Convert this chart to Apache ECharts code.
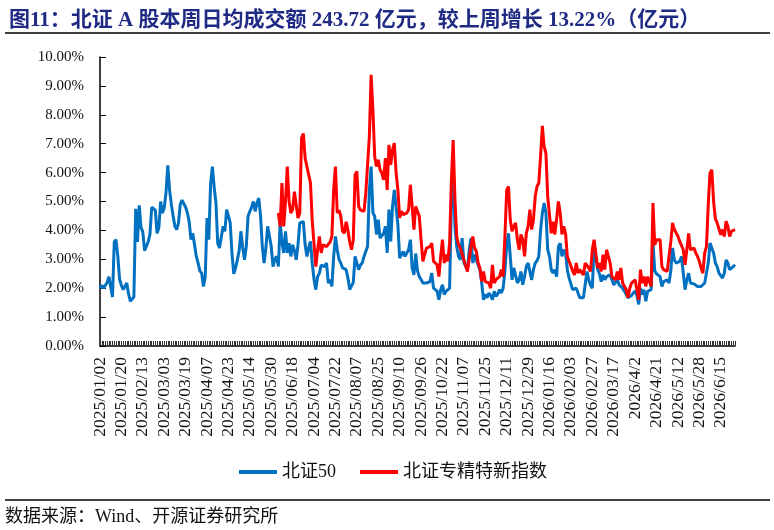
<!DOCTYPE html>
<html><head><meta charset="utf-8">
<script src="https://cdn.jsdelivr.net/npm/echarts@6/dist/echarts.min.js"></script>
<style>html,body{margin:0;padding:0;background:#fff}#c{width:774px;height:530px}</style>
</head><body><div id="c"></div>
<script>
const categories = [
'2025/01/02','2025/01/03','2025/01/06','2025/01/07','2025/01/08','2025/01/09','2025/01/10','2025/01/13','2025/01/14','2025/01/15','2025/01/16','2025/01/17','2025/01/20','2025/01/21','2025/01/22','2025/01/23','2025/01/24','2025/01/27',
'2025/02/05','2025/02/06','2025/02/07','2025/02/10','2025/02/11','2025/02/12','2025/02/13','2025/02/14','2025/02/17','2025/02/18','2025/02/19','2025/02/20','2025/02/21','2025/02/24','2025/02/25','2025/02/26','2025/02/27','2025/02/28',
'2025/03/03','2025/03/04','2025/03/05','2025/03/06','2025/03/07','2025/03/10','2025/03/11','2025/03/12','2025/03/13','2025/03/14','2025/03/17','2025/03/18','2025/03/19','2025/03/20','2025/03/21','2025/03/24','2025/03/25','2025/03/26','2025/03/27','2025/03/28','2025/03/31',
'2025/04/01','2025/04/02','2025/04/03','2025/04/07','2025/04/08','2025/04/09','2025/04/10','2025/04/11','2025/04/14','2025/04/15','2025/04/16','2025/04/17','2025/04/18','2025/04/21','2025/04/22','2025/04/23','2025/04/24','2025/04/25','2025/04/28','2025/04/29','2025/04/30',
'2025/05/06','2025/05/07','2025/05/08','2025/05/09','2025/05/12','2025/05/13','2025/05/14','2025/05/15','2025/05/16','2025/05/19','2025/05/20','2025/05/21','2025/05/22','2025/05/23','2025/05/26','2025/05/27','2025/05/28','2025/05/29','2025/05/30',
'2025/06/03','2025/06/04','2025/06/05','2025/06/06','2025/06/09','2025/06/10','2025/06/11','2025/06/12','2025/06/13','2025/06/16','2025/06/17','2025/06/18','2025/06/19','2025/06/20','2025/06/23','2025/06/24','2025/06/25','2025/06/26','2025/06/27','2025/06/30',
'2025/07/01','2025/07/02','2025/07/03','2025/07/04','2025/07/07','2025/07/08','2025/07/09','2025/07/10','2025/07/11','2025/07/14','2025/07/15','2025/07/16','2025/07/17','2025/07/18','2025/07/21','2025/07/22','2025/07/23','2025/07/24','2025/07/25','2025/07/28','2025/07/29','2025/07/30','2025/07/31',
'2025/08/01','2025/08/04','2025/08/05','2025/08/06','2025/08/07','2025/08/08','2025/08/11','2025/08/12','2025/08/13','2025/08/14','2025/08/15','2025/08/18','2025/08/19','2025/08/20','2025/08/21','2025/08/22','2025/08/25','2025/08/26','2025/08/27','2025/08/28','2025/08/29',
'2025/09/01','2025/09/02','2025/09/03','2025/09/04','2025/09/05','2025/09/08','2025/09/09','2025/09/10','2025/09/11','2025/09/12','2025/09/15','2025/09/16','2025/09/17','2025/09/18','2025/09/19','2025/09/22','2025/09/23','2025/09/24','2025/09/25','2025/09/26','2025/09/29','2025/09/30',
'2025/10/09','2025/10/10','2025/10/13','2025/10/14','2025/10/15','2025/10/16','2025/10/17','2025/10/20','2025/10/21','2025/10/22','2025/10/23','2025/10/24','2025/10/27','2025/10/28','2025/10/29','2025/10/30','2025/10/31',
'2025/11/03','2025/11/04','2025/11/05','2025/11/06','2025/11/07','2025/11/10','2025/11/11','2025/11/12','2025/11/13','2025/11/14','2025/11/17','2025/11/18','2025/11/19','2025/11/20','2025/11/21','2025/11/24','2025/11/25','2025/11/26','2025/11/27','2025/11/28',
'2025/12/01','2025/12/02','2025/12/03','2025/12/04','2025/12/05','2025/12/08','2025/12/09','2025/12/10','2025/12/11','2025/12/12','2025/12/15','2025/12/16','2025/12/17','2025/12/18','2025/12/19','2025/12/22','2025/12/23','2025/12/24','2025/12/25','2025/12/26','2025/12/29','2025/12/30','2025/12/31',
'2026/01/05','2026/01/06','2026/01/07','2026/01/08','2026/01/09','2026/01/12','2026/01/13','2026/01/14','2026/01/15','2026/01/16','2026/01/19','2026/01/20','2026/01/21','2026/01/22','2026/01/23','2026/01/26','2026/01/27','2026/01/28','2026/01/29','2026/01/30',
'2026/02/02','2026/02/03','2026/02/04','2026/02/05','2026/02/06','2026/02/09','2026/02/10','2026/02/11','2026/02/12','2026/02/13','2026/02/24','2026/02/25','2026/02/26','2026/02/27',
'2026/03/02','2026/03/03','2026/03/04','2026/03/05','2026/03/06','2026/03/09','2026/03/10','2026/03/11','2026/03/12','2026/03/13','2026/03/16','2026/03/17','2026/03/18','2026/03/19','2026/03/20','2026/03/23','2026/03/24','2026/03/25','2026/03/26','2026/03/27','2026/03/30','2026/03/31',
'2026/4/1','2026/4/2','2026/4/3','2026/4/7','2026/4/8','2026/4/9','2026/4/10','2026/4/13','2026/4/14','2026/4/15','2026/4/16','2026/4/17','2026/4/20','2026/4/21','2026/4/22','2026/4/23','2026/4/24','2026/4/27','2026/4/28','2026/4/29','2026/4/30',
'2026/5/6','2026/5/7','2026/5/8','2026/5/11','2026/5/12','2026/5/13','2026/5/14','2026/5/15','2026/5/18','2026/5/19','2026/5/20','2026/5/21','2026/5/22','2026/5/25','2026/5/26','2026/5/27','2026/5/28','2026/5/29',
'2026/6/1','2026/6/2','2026/6/3','2026/6/4','2026/6/5','2026/6/8','2026/6/9','2026/6/10','2026/6/11','2026/6/12','2026/6/15','2026/6/16','2026/6/17','2026/6/18','2026/6/22','2026/6/23','2026/6/24','2026/6/25','2026/6/26'
];

// 北证50 (%)
const bz50 = [
2.0,2.1,2.0,1.95,2.2,2.4,2.45,1.7,3.6,3.68,
3.1,2.3,2.1,1.95,2.0,2.18,1.8,1.55,1.6,1.7,
4.75,3.6,4.87,4.1,3.95,3.3,3.29,3.6,3.86,4.8,
4.84,4.7,3.9,4.1,5.0,4.6,4.78,5.3,6.25,5.4,
4.9,4.5,4.14,4.03,4.26,4.9,5.05,5.0,4.8,4.6,
4.3,3.68,3.9,3.5,3.1,2.87,2.6,2.52,2.06,2.4,
4.43,3.68,5.6,6.21,5.5,4.95,3.56,3.39,3.45,4.14,
3.97,4.72,4.5,4.26,3.2,2.5,2.7,2.98,3.3,3.97,
3.4,2.98,3.44,4.49,4.66,4.8,5.0,4.66,4.95,5.12,
4.5,3.44,2.87,3.39,4.14,3.8,3.44,2.75,3.0,3.1,
2.75,4.26,3.6,3.22,3.97,3.22,3.56,3.1,3.5,3.3,
2.98,3.5,4.26,4.2,4.3,3.5,3.1,3.4,3.62,2.85,
2.3,1.95,2.4,2.52,2.8,2.75,2.75,2.87,2.18,2.29,
2.06,3.1,3.79,3.33,3.0,2.87,2.7,2.65,2.64,2.35,
1.95,1.95,2.2,3.1,3.04,2.64,2.8,2.87,3.1,3.16,
3.44,5.4,6.21,4.6,4.49,3.86,4.37,3.73,3.73,3.9,
4.14,3.22,4.72,3.62,4.83,5.4,4.8,4.2,3.04,3.1,
3.27,3.1,3.1,3.33,3.68,2.7,2.46,3.2,2.6,2.4,
2.3,2.18,2.12,2.18,2.2,2.23,2.52,2.0,2.0,1.9,
1.6,1.95,2.12,1.78,1.89,1.95,2.0,4.95,5.87,4.14,
3.44,3.1,2.98,3.73,2.9,2.75,2.64,3.33,3.73,2.87,
3.16,3.1,2.8,2.64,2.18,1.6,1.78,1.67,1.83,1.75,
1.6,1.89,1.72,1.8,1.95,1.83,2.0,2.58,3.5,3.9,
3.1,2.29,2.7,2.64,2.18,2.29,2.58,2.12,2.4,2.75,
2.87,2.93,2.29,2.64,2.87,2.95,3.1,4.0,4.6,4.95,
4.6,3.33,3.1,2.64,2.52,2.64,2.4,3.44,3.56,3.1,
3.33,3.22,2.64,2.35,2.29,1.95,2.0,2.0,1.83,1.67,
1.67,1.67,1.67,2.58,2.29,2.1,2.0,3.39,3.1,2.64,
2.5,2.23,2.46,2.29,2.4,2.4,2.46,2.29,2.12,2.2,
2.29,2.12,2.18,2.0,1.9,1.89,1.67,1.72,1.75,1.83,
1.9,1.75,1.44,2.0,1.78,1.95,1.55,1.89,1.95,1.95,
3.6,2.6,2.5,2.46,2.4,2.06,2.23,2.29,2.29,2.18,
2.6,3.39,2.98,2.87,2.9,2.93,3.1,2.52,1.95,2.29,
2.52,2.18,2.18,2.15,2.12,2.06,2.0,2.06,2.1,2.18,
2.12,2.87,3.56,3.62,3.22,2.87,2.75,2.52,2.58,2.35,
2.52,2.98,2.87,2.64,2.58,2.75,2.81
];

// 北证专精特新指数 (%), first value on this date
const zjtxStartDate = '2025/06/06';
const zjtx = [
4.6,4.14,5.64,4.14,5.0,6.21,5.0,4.6,4.72,5.34,
5.28,4.43,4.6,7.19,7.35,6.5,6.21,6.27,5.64,4.3,
4.26,2.75,3.33,3.79,3.22,3.5,3.56,3.44,3.5,3.6,
3.79,5.4,6.21,4.6,4.7,4.49,3.97,3.9,4.3,4.0,
3.6,3.33,3.68,5.92,6.04,4.83,4.7,4.66,4.66,5.28,
5.28,7.25,9.38,8.17,6.56,6.21,6.44,6.1,5.98,5.75,
6.5,5.4,6.96,6.27,6.79,7.02,6.0,5.4,4.43,4.66,
4.55,4.6,4.6,4.72,5.58,4.83,4.03,4.83,4.78,4.49,
3.68,2.93,2.98,3.39,3.4,3.44,3.56,2.93,2.9,2.81,
2.4,3.1,3.68,2.87,3.16,2.93,3.56,5.75,7.13,5.06,
3.79,3.5,3.39,3.33,2.98,3.04,2.58,2.52,3.44,3.79,
3.4,3.27,2.87,2.7,2.23,2.58,2.23,2.2,2.18,2.0,
2.81,2.18,2.3,2.35,2.4,2.64,2.4,3.79,5.4,5.52,
4.37,3.97,4.14,4.26,3.68,3.33,3.86,3.68,3.1,3.9,
4.14,4.72,4.03,4.37,5.17,5.52,5.64,6.56,7.62,6.9,
6.67,5.17,5.17,3.9,4.3,3.86,4.4,5.0,4.6,3.86,
4.14,3.9,3.1,2.93,2.87,2.6,2.46,2.87,2.52,2.64,
2.55,2.46,2.87,2.87,2.7,2.58,3.33,3.68,3.62,2.7,
2.87,2.58,3.16,2.64,3.33,3.39,2.87,2.4,2.35,2.29,
2.58,2.29,2.7,2.18,2.18,1.95,1.67,2.0,2.18,2.2,
2.29,1.95,1.6,2.64,2.18,2.4,2.06,2.4,2.4,2.06,
4.95,3.5,3.68,3.68,3.68,2.75,2.64,2.58,2.58,2.64,
3.6,4.26,4.03,3.97,3.8,3.62,3.62,3.33,2.81,3.33,
3.9,3.33,3.27,3.39,3.22,3.1,2.93,2.7,2.52,3.22,
3.44,4.9,5.98,6.1,5.0,4.4,4.26,4.26,3.85,4.03,
3.79,4.32,4.14,3.79,3.97,3.97,4.03
];

const seriesNames = ['北证50', '北证专精特新指数'];
const titleText = '图11：北证 A 股本周日均成交额 243.72 亿元，较上周增长 13.22%（亿元）';
const sourceText = '数据来源：Wind、开源证券研究所';

const startIdx = categories.indexOf(zjtxStartDate);
const zjtxData = categories.map((d, i) => i < startIdx ? null : zjtx[i - startIdx]);

const serifCJK = "'Liberation Serif','Times New Roman','Noto Sans CJK SC',serif";
const chart = echarts.init(document.getElementById('c'));
chart.setOption({
  animation: false,
  title: {
    text: titleText, left: 4, top: 5,
    textStyle: { color: '#1F2A84', fontSize: 21, fontWeight: 'bold', fontFamily: serifCJK }
  },
  graphic: [
    { type: 'line', shape: { x1: 5, y1: 33, x2: 770, y2: 33 }, style: { stroke: '#000', lineWidth: 1.5 } },
    { type: 'line', shape: { x1: 5, y1: 500, x2: 770, y2: 500 }, style: { stroke: '#000', lineWidth: 1.5 } },
    { type: 'text', left: 5, top: 508, style: { text: sourceText, font: "18px " + serifCJK, fill: '#111' } }
  ],
  legend: {
    data: seriesNames, top: 458, left: 234,
    itemWidth: 38, itemHeight: 4, itemGap: 24, icon: 'rect',
    textStyle: { fontSize: 18, fontFamily: serifCJK, color: '#111' }
  },
  grid: { left: 100, right: 39, top: 57, bottom: 184 },
  xAxis: {
    type: 'category', data: categories, boundaryGap: false,
    axisLine: { lineStyle: { color: '#000', width: 1.5 } },
    axisTick: { show: true, inside: true, length: 5, interval: 0, lineStyle: { color: '#333', width: 1 } },
    axisLabel: { interval: 11, rotate: 90, margin: 11, fontSize: 17.5, fontFamily: "'Liberation Serif',serif", color: '#111' }
  },
  yAxis: {
    type: 'value', min: 0, max: 10, interval: 1,
    splitLine: { show: false },
    axisLine: { show: true, lineStyle: { color: '#000', width: 1.5 } },
    axisTick: { show: true, inside: true, length: 6, lineStyle: { color: '#000' } },
    axisLabel: { formatter: v => v.toFixed(2) + '%', fontSize: 15, fontFamily: "'Liberation Serif',serif", color: '#111', margin: 16 }
  },
  series: [
    { name: seriesNames[0], type: 'line', data: bz50, showSymbol: false, lineStyle: { color: '#0070C0', width: 3 }, itemStyle: { color: '#0070C0' } },
    { name: seriesNames[1], type: 'line', data: zjtxData, showSymbol: false, connectNulls: false, lineStyle: { color: '#FF0000', width: 3 }, itemStyle: { color: '#FF0000' } }
  ]
});
</script>
</body></html>
